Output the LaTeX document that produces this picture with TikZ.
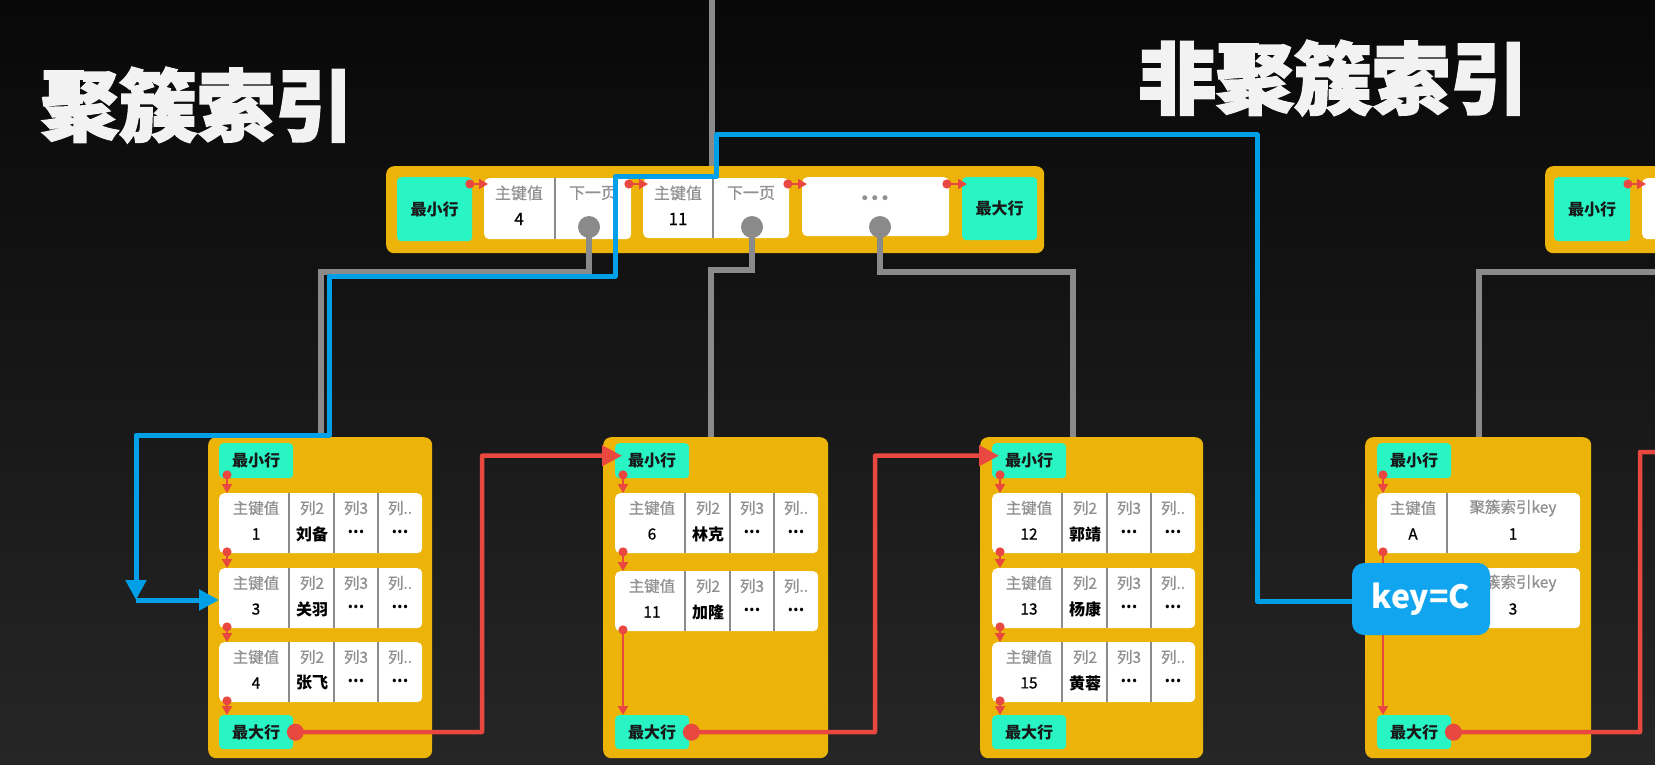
\documentclass[tikz,border=0pt]{standalone}
\usepackage{fontspec}
\setmainfont{Noto Sans CJK SC}
\newfontfamily\titlefont[BoldFeatures={FakeBold=2.5}]{Noto Sans CJK SC}
\newfontfamily\medfont[FakeBold=0.7]{Noto Sans CJK SC}
\newfontfamily\symfont{DejaVu Sans}
\usetikzlibrary{arrows.meta,calc}
\definecolor{pageY}{RGB}{236,180,8}
\definecolor{mteal}{RGB}{40,245,195}
\definecolor{lred}{RGB}{232,72,63}
\definecolor{lgray}{RGB}{138,138,138}
\definecolor{divgray}{RGB}{140,140,140}
\definecolor{hdrgray}{RGB}{145,145,145}
\definecolor{lblue}{RGB}{0,160,233}
\definecolor{keyblue}{RGB}{16,165,238}
\definecolor{bgtop}{RGB}{8,8,8}
\definecolor{bgbot}{RGB}{38,38,38}
\definecolor{titlecol}{RGB}{242,242,242}
\tikzset{
  bgpage/.style={fill=pageY, rounded corners=8pt, inner sep=0, anchor=north west},
  tealbox/.style={fill=mteal, rounded corners=4pt, inner sep=0, anchor=north west,
    minimum width=74pt, minimum height=35pt, text=black!90,
    font=\fontsize{16}{16}\selectfont\bfseries},
  rowbox/.style={fill=white, rounded corners=5pt, inner sep=0, anchor=north west,
    minimum width=203pt, minimum height=60pt},
  hdr/.style={text=hdrgray, inner sep=0, font=\fontsize{15.5}{16}\medfont},
  val/.style={text=black, inner sep=0, font=\fontsize{15.5}{16}\medfont},
  valb/.style={text=black, inner sep=0, font=\fontsize{16}{16}\selectfont\bfseries},
  divider/.style={draw=divgray, line width=2.5pt},
  rsmall/.style={draw=lred, line width=1.8pt, arrows={Circle[length=9pt]-Triangle[length=9pt,width=10pt]}},
  rlink/.style={draw=lred, line width=4.5pt, line join=round, -{Triangle[length=20pt,width=20pt]}},
  rlinkopen/.style={draw=lred, line width=4.5pt, line join=round},
  rdot/.style={circle, fill=lred, inner sep=0, minimum size=17pt},
  gline/.style={draw=lgray, line width=6pt, line join=miter},
  gdot/.style={circle, fill=lgray, inner sep=0, minimum size=22pt},
  bline/.style={draw=lblue, line width=5pt, line join=round, -{Triangle[length=20pt,width=20pt]}},
  keybox/.style={fill=keyblue, rounded corners=12pt, inner sep=0, minimum width=138pt,
    minimum height=72pt, text=white, font=\fontsize{32}{32}\selectfont\bfseries},
  titlestyle/.style={text=titlecol, inner sep=0, font=\fontsize{78}{78}\titlefont\bfseries},
}
% leaf row: name, x, y, pk, col2 name
\newcommand{\leafrow}[5]{%
  \node[rowbox] (#1) at (#2,#3) {};
  \draw[divider] ($(#1.north west)+(70,0)$) -- ($(#1.south west)+(70,0)$);
  \draw[divider] ($(#1.north west)+(115,0)$) -- ($(#1.south west)+(115,0)$);
  \draw[divider] ($(#1.north west)+(159,0)$) -- ($(#1.south west)+(159,0)$);
  \node[hdr] (#1-h1) at ($(#1.north west)+(37,15)$) {主键值};
  \node[val] (#1-v1) at ($(#1.north west)+(37,41)$) {#4};
  \node[hdr] (#1-h2) at ($(#1.north west)+(93,15)$) {列2};
  \node[valb] (#1-v2) at ($(#1.north west)+(93,41)$) {#5};
  \node[hdr] (#1-h3) at ($(#1.north west)+(137,15)$) {列3};
  \node[valb] (#1-v3) at ($(#1.north west)+(137,39)$) {...};
  \node[hdr] (#1-h4) at ($(#1.north west)+(181,15)$) {列..};
  \node[valb] (#1-v4) at ($(#1.north west)+(181,39)$) {...};
}
\begin{document}
\begin{tikzpicture}[x=1pt,y=-1pt]
\fill[top color=bgtop, bottom color=bgbot] (0,0) rectangle (1655,765);
\clip (0,0) rectangle (1655,765);

% titles
\node[titlestyle] (t1) at (197,105) {聚簇索引};
\node[titlestyle] (t2) at (1333,78) {非聚簇索引};

% top gray line into root
\coordinate (gtop) at (712,0);

% ---------- root page ----------
\node[bgpage, minimum width=658pt, minimum height=87pt] (root) at (386,166) {};
\draw[gline] (gtop) -- (gtop |- root.north);
\node[tealbox, minimum width=75pt, minimum height=64pt] (rmin) at (397,177) {最小行};
\node[rowbox, minimum width=147pt, minimum height=61pt] (rc1) at (484,178) {};
\draw[divider] ($(rc1.north west)+(71,0)$) -- ($(rc1.south west)+(71,0)$);
\node[hdr, font=\fontsize{16}{16}\medfont] (rc1h) at ($(rc1.north west)+(35,15)$) {主键值};
\node[val, font=\fontsize{17}{17}\medfont] (rc1v) at ($(rc1.north west)+(35,41)$) {4};
\node[hdr, font=\fontsize{16}{16}\medfont] (rc1n) at ($(rc1.north west)+(109,15)$) {下一页};

\node[rowbox, minimum width=146pt, minimum height=60pt] (rc2) at (643,178) {};
\draw[divider] ($(rc2.north west)+(70,0)$) -- ($(rc2.south west)+(70,0)$);
\node[hdr, font=\fontsize{16}{16}\medfont] (rc2h) at ($(rc2.north west)+(35,15)$) {主键值};
\node[val, font=\fontsize{17}{17}\medfont] (rc2v) at ($(rc2.north west)+(35,41)$) {11};
\node[hdr, font=\fontsize{16}{16}\medfont] (rc2n) at ($(rc2.north west)+(108,15)$) {下一页};

\node[rowbox, minimum width=147pt, minimum height=59pt] (rc3) at (802,177) {};
\node[text=hdrgray, inner sep=0, font=\fontsize{17}{17}\symfont] (rc3d) at ($(rc3.north west)+(73,23)$) {•••};

\node[tealbox, minimum width=75pt, minimum height=63pt] (rmax) at (962,177) {最大行};

% root red arrows
\draw[rsmall] ($(rmin.north east)+(-7,7)$) -- ($(rc1.north west)+(4,6)$);
\draw[rsmall] ($(rc1.north east)+(-7,6)$) -- ($(rc2.north west)+(5,6)$);
\draw[rsmall] ($(rc2.north east)+(-6,6)$) -- ($(rc3.north west)+(5,7)$);
\draw[rsmall] ($(rc3.north east)+(-7,7)$) -- ($(rmax.north west)+(5,7)$);

% ---------- right root (partial) ----------
\node[bgpage, minimum width=160pt, minimum height=87pt] (root2) at (1545,166) {};
\node[tealbox, minimum width=76pt, minimum height=64pt] (r2min) at (1554,177) {最小行};
\node[rowbox, minimum width=80pt, minimum height=61pt] (r2c1) at (1642,178) {};
\draw[rsmall] ($(r2min.north east)+(-7,7)$) -- ($(r2c1.north west)+(4,6)$);

% ---------- leaf page A ----------
\node[bgpage, minimum width=224pt, minimum height=321pt] (pA) at (208,437) {};
\node[tealbox] (Amin) at (219,443) {最小行};
\leafrow{A1}{219}{493}{1}{刘备}
\leafrow{A2}{219}{568}{3}{关羽}
\leafrow{A3}{219}{642}{4}{张飞}
\node[tealbox, minimum height=34pt] (Amax) at (219,715) {最大行};
\draw[rsmall] ($(Amin.south west)+(8,-8)$) -- ($(A1.north west)+(8,0)$);
\draw[rsmall] ($(A1.south west)+(8,-6)$) -- ($(A2.north west)+(8,0)$);
\draw[rsmall] ($(A2.south west)+(8,-6)$) -- ($(A3.north west)+(8,0)$);
\draw[rsmall] ($(A3.south west)+(8,-6)$) -- ($(Amax.north west)+(8,0)$);

% ---------- leaf page B ----------
\node[bgpage, minimum width=225pt, minimum height=321pt] (pB) at (603,437) {};
\node[tealbox] (Bmin) at (615,443) {最小行};
\leafrow{B1}{615}{493}{6}{林克}
\leafrow{B2}{615}{571}{11}{加隆}
\node[tealbox, minimum height=34pt] (Bmax) at (615,715) {最大行};
\draw[rsmall] ($(Bmin.south west)+(8,-8)$) -- ($(B1.north west)+(8,0)$);
\draw[rsmall] ($(B1.south west)+(8,-6)$) -- ($(B2.north west)+(8,0)$);
\draw[rsmall] ($(B2.south west)+(8,-6)$) -- ($(Bmax.north west)+(8,0)$);

% ---------- leaf page C ----------
\node[bgpage, minimum width=223pt, minimum height=321pt] (pC) at (980,437) {};
\node[tealbox] (Cmin) at (992,443) {最小行};
\leafrow{C1}{992}{493}{12}{郭靖}
\leafrow{C2}{992}{568}{13}{杨康}
\leafrow{C3}{992}{642}{15}{黄蓉}
\node[tealbox, minimum height=34pt] (Cmax) at (992,715) {最大行};
\draw[rsmall] ($(Cmin.south west)+(8,-8)$) -- ($(C1.north west)+(8,0)$);
\draw[rsmall] ($(C1.south west)+(8,-6)$) -- ($(C2.north west)+(8,0)$);
\draw[rsmall] ($(C2.south west)+(8,-6)$) -- ($(C3.north west)+(8,0)$);
\draw[rsmall] ($(C3.south west)+(8,-6)$) -- ($(Cmax.north west)+(8,0)$);

% ---------- non-clustered leaf page D ----------
\node[bgpage, minimum width=226pt, minimum height=321pt] (pD) at (1365,437) {};
\node[tealbox] (Dmin) at (1377,443) {最小行};
\node[rowbox] (D1) at (1377,493) {};
\draw[divider] ($(D1.north west)+(70,0)$) -- ($(D1.south west)+(70,0)$);
\node[hdr] (D1h1) at ($(D1.north west)+(36,15)$) {主键值};
\node[val] (D1v1) at ($(D1.north west)+(36,41)$) {A};
\node[hdr] (D1h2) at ($(D1.north west)+(136,15)$) {聚簇索引key};
\node[val] (D1v2) at ($(D1.north west)+(136,41)$) {1};
\node[rowbox] (D2) at (1377,568) {};
\node[hdr] (D2h2) at ($(D2.north west)+(136,15)$) {聚簇索引key};
\node[val] (D2v2) at ($(D2.north west)+(136,41)$) {3};
\node[tealbox, minimum height=34pt] (Dmax) at (1377,715) {最大行};
\draw[rsmall] ($(Dmin.south west)+(6,-8)$) -- ($(D1.north west)+(6,0)$);
\draw[rsmall] ($(D1.south west)+(6,-6)$) -- ($(Dmax.north west)+(6,0)$);

% ---------- gray pointers ----------
\node[gdot] (gd1) at ($(rc1.north west)+(105,49)$) {};
\node[gdot] (gd2) at ($(rc2.north west)+(109,49)$) {};
\node[gdot] (gd3) at ($(rc3.north west)+(78,50)$) {};
\draw[gline] (gd1.center) -- (589,272) -- (321,272) -- (321,0 |- pA.north);
\draw[gline] (gd2.center) -- (752,270) -- (711,270) -- (711,0 |- pB.north);
\draw[gline] (gd3.center) -- (880,272) -- (1073,272) -- (1073,0 |- pC.north);
\coordinate (gR) at (1670,272);
\draw[gline] (1479,0 |- pD.north) -- (1479,272) -- (gR);

% ---------- red page links ----------
\node[rdot] (Adot) at ($(Amax.east)+(2,0)$) {};
\draw[rlink] (Adot.center) -- (482,732) |- ($(Bmin.west)+(7,-5)$);
\node[rdot] (Bdot) at ($(Bmax.east)+(2,0)$) {};
\draw[rlink] (Bdot.center) -- (875,732) |- ($(Cmin.west)+(7,-5)$);
\coordinate (rR) at (1680,452);
\coordinate (Dstart) at ($(Dmax.east)+(2,0)$);
\draw[rlinkopen] (Dstart) -- (1640,732) |- (rR);
\node[rdot] (Ddot) at (Dstart) {};

% ---------- key lookup ----------
\coordinate (bstart) at (1360,601);
\coordinate (bturn) at (136,600);
\draw[bline] (bstart) -- (1257,601) -- (1257,135) -- (716,135) -- (716,177) -- (615,177)
  -- (615,276) -- (329,276) -- (329,435) -- (136,435) -- (bturn);
\draw[bline] (bturn) -- (A2.west |- bturn);
\node[keybox] (key) at (1421,599) {key=C};
\end{tikzpicture}
\end{document}
